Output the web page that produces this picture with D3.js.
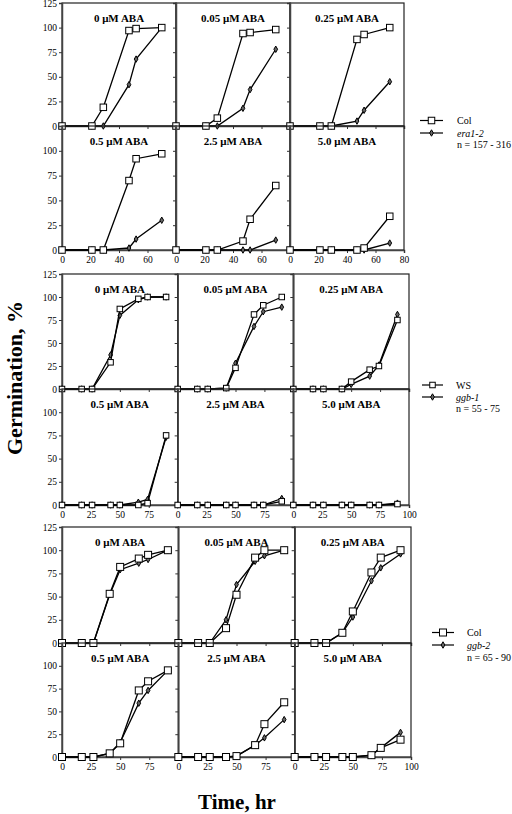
<!DOCTYPE html>
<html><head><meta charset="utf-8">
<script src="https://cdn.jsdelivr.net/npm/d3@7"></script>
<style>
html,body{margin:0;padding:0;background:#fff;}
svg{display:block;}
text{font-family:"Liberation Serif","Times New Roman",serif;fill:#000;}
</style></head>
<body>
<svg id="chart" width="512" height="814"></svg>
<script>
// ---------- DATA ----------
const panelTitles = ["0 μM ABA","0.05 μM ABA","0.25 μM ABA","0.5 μM ABA","2.5 μM ABA","5.0 μM ABA"];
const yTicks = [0,25,50,75,100,125];
const xTicksEra = [0,20,40,60,80];
const xTicksGgb = [0,25,50,75,100];

// Experiment 1: Col vs era1-2
const timesEra = [0,21,29,47,52,70];
const eraCol = [
  [0,0,19,97,99,100],
  [0,0,8,94,95,98],
  [0,0,0,88,93,100],
  [0,0,0,70,92,97],
  [0,0,0,9,31,65],
  [0,0,0,0,2,34]
];
const eraMut = [
  [0,0,0,42,68,100],
  [0,0,0,18,37,78],
  [0,0,0,5,16,45],
  [0,0,0,2,11,30],
  [0,0,0,0,0,10],
  [0,0,0,0,0,7]
];

// Experiment 2: WS vs ggb-1
const timesGgb1 = [0,17,26,42,50,66,74,90];
const ggb1WS = [
  [0,0,0,29,87,98,100,100],
  [0,0,0,1,23,81,91,100],
  [0,0,0,0,8,21,25,75],
  [0,0,0,0,0,0,2,75],
  [0,0,0,0,0,0,0,4],
  [0,0,0,0,0,0,0,1]
];
const ggb1Mut = [
  [0,0,0,37,80,97,100,100],
  [0,0,0,1,28,68,84,89],
  [0,0,0,0,5,14,26,81],
  [0,0,0,0,0,3,6,73],
  [0,0,0,0,0,0,0,7],
  [0,0,0,0,0,0,0,2]
];

// Experiment 3: Col vs ggb-2
const timesGgb2 = [0,17,27,41,50,66,74,91];
const ggb2Col = [
  [0,0,0,53,82,91,95,100],
  [0,0,0,16,52,92,100,100],
  [0,0,0,11,34,76,92,100],
  [0,0,0,4,15,73,83,95],
  [0,0,0,0,1,13,36,60],
  [0,0,0,0,0,2,10,19]
];
const ggb2Mut = [
  [0,0,0,52,79,86,90,100],
  [0,0,0,25,63,88,94,100],
  [0,0,0,11,28,67,81,96],
  [0,0,0,4,16,59,73,95],
  [0,0,0,0,1,13,21,41],
  [0,0,0,0,0,2,10,27]
];

const legendWT = ["Col","WS","Col"];
const legendMut = ["era1-2","ggb-1","ggb-2"];
const legendN = ["n = 157 - 316","n = 55 - 75","n = 65 - 90"];

// ---------- LAYOUT ----------
const blocks = [
  {left:62,right:404,top:3,mid:126,bottom:250,xmax:80,xticks:xTicksEra,times:timesEra,wt:eraCol,mut:eraMut,sq:6.5,
   leg:{x1:420,x2:443,tx:457,y:[124,136.5,147.5]}},
  {left:62,right:409,top:274,mid:389,bottom:505,xmax:100,xticks:xTicksGgb,times:timesGgb1,wt:ggb1WS,mut:ggb1Mut,sq:5.5,
   leg:{x1:422,x2:443,tx:456,y:[388.5,400.5,411.5]}},
  {left:62,right:411,top:527,mid:643,bottom:757,xmax:100,xticks:xTicksGgb,times:timesGgb2,wt:ggb2Col,mut:ggb2Mut,sq:7,
   leg:{x1:432,x2:454,tx:467,y:[636,648.5,661]}}
];

const svg = d3.select("#chart");
const diamond = d3.symbol().type(d3.symbolDiamond).size(12);

blocks.forEach((b,bi)=>{
  const cw = (b.right-b.left)/3;
  for(let r=0;r<2;r++){
    for(let c=0;c<3;c++){
      const pi = r*3+c;
      const x0 = b.left + c*cw, x1 = x0+cw;
      const yTop = r===0?b.top:b.mid, yBot = r===0?b.mid:b.bottom;
      const x = d3.scaleLinear().domain([0,b.xmax]).range([x0,x1]);
      const y = d3.scaleLinear().domain([0,125]).range([yBot,yTop]);
      const g = svg.append("g");
      // frame
      g.append("rect").attr("x",x0).attr("y",yTop).attr("width",cw).attr("height",yBot-yTop)
        .attr("fill","none").attr("stroke","#222").attr("stroke-width",1.2);
      // y axis
      const yTickVals = r===0?yTicks:yTicks.slice(0,5);
      const ya = d3.axisLeft(y).tickValues(yTickVals).tickSize(3).tickPadding(2)
        .tickFormat(c===0?d3.format("d"):()=>"");
      const yg = g.append("g").attr("transform",`translate(${x0},0)`).call(ya);
      yg.select(".domain").attr("stroke","#444").attr("stroke-width",1.5);
      yg.selectAll(".tick line").attr("stroke","#333");
      yg.selectAll("text").style("font-family","Liberation Serif").style("font-size","9.5px");
      // x axis at y=0
      const xTickVals = (r===1 && c<2) ? b.xticks.slice(0,-1) : b.xticks;
      const xa = d3.axisBottom(x).tickValues(xTickVals).tickSize(3).tickPadding(3)
        .tickFormat(r===1?d3.format("d"):()=>"");
      const xg = g.append("g").attr("transform",`translate(0,${yBot})`).call(xa);
      xg.select(".domain").attr("stroke","#444").attr("stroke-width",1.5);
      xg.selectAll(".tick line").attr("stroke","#333");
      xg.selectAll("text").style("font-family","Liberation Serif").style("font-size","9.5px");
      // title
      g.append("text").attr("x",(x0+x1)/2).attr("y",yTop+19).attr("text-anchor","middle")
        .style("font-weight","bold").style("font-size","11px").text(panelTitles[pi]);
      // series
      const line = d3.line().x((d,i)=>x(b.times[i])).y(d=>y(d));
      g.append("path").attr("d",line(b.mut[pi])).attr("fill","none").attr("stroke","#000").attr("stroke-width",1.3);
      g.selectAll(".dm").data(b.mut[pi]).enter().append("path")
        .attr("transform",(d,i)=>`translate(${x(b.times[i])},${y(d)})`).attr("d",diamond)
        .attr("fill","#666").attr("stroke","#000").attr("stroke-width",1);
      g.append("path").attr("d",line(b.wt[pi])).attr("fill","none").attr("stroke","#000").attr("stroke-width",1.3);
      g.selectAll(".sq").data(b.wt[pi]).enter().append("rect")
        .attr("x",(d,i)=>x(b.times[i])-b.sq/2).attr("y",d=>y(d)-b.sq/2)
        .attr("width",b.sq).attr("height",b.sq).attr("fill","#fff").attr("stroke","#000").attr("stroke-width",1);
    }
  }
  // legend
  const L = b.leg, lg = svg.append("g"), cx=(L.x1+L.x2)/2;
  lg.append("line").attr("x1",L.x1).attr("x2",L.x2).attr("y1",L.y[0]-3.5).attr("y2",L.y[0]-3.5).attr("stroke","#000").attr("stroke-width",1.2);
  lg.append("rect").attr("x",cx-b.sq/2).attr("y",L.y[0]-3.5-b.sq/2).attr("width",b.sq).attr("height",b.sq).attr("fill","#fff").attr("stroke","#000");
  lg.append("line").attr("x1",L.x1).attr("x2",L.x2).attr("y1",L.y[1]-3.5).attr("y2",L.y[1]-3.5).attr("stroke","#000").attr("stroke-width",1.2);
  lg.append("path").attr("transform",`translate(${cx},${L.y[1]-3.5})`).attr("d",diamond).attr("fill","#666").attr("stroke","#000");
  lg.append("text").attr("x",L.tx).attr("y",L.y[0]).style("font-size","10px").text(legendWT[bi]);
  lg.append("text").attr("x",L.tx).attr("y",L.y[1]).style("font-size","10px").style("font-style","italic").text(legendMut[bi]);
  lg.append("text").attr("x",L.tx).attr("y",L.y[2]).style("font-size","10px").text(legendN[bi]);
});

// axis titles
svg.append("text").attr("transform","translate(22,378) rotate(-90)").attr("text-anchor","middle")
  .style("font-weight","bold").style("font-size","22px").text("Germination, %");
svg.append("text").attr("x",237).attr("y",809).attr("text-anchor","middle")
  .style("font-weight","bold").style("font-size","21px").text("Time, hr");
</script>
</body></html>
